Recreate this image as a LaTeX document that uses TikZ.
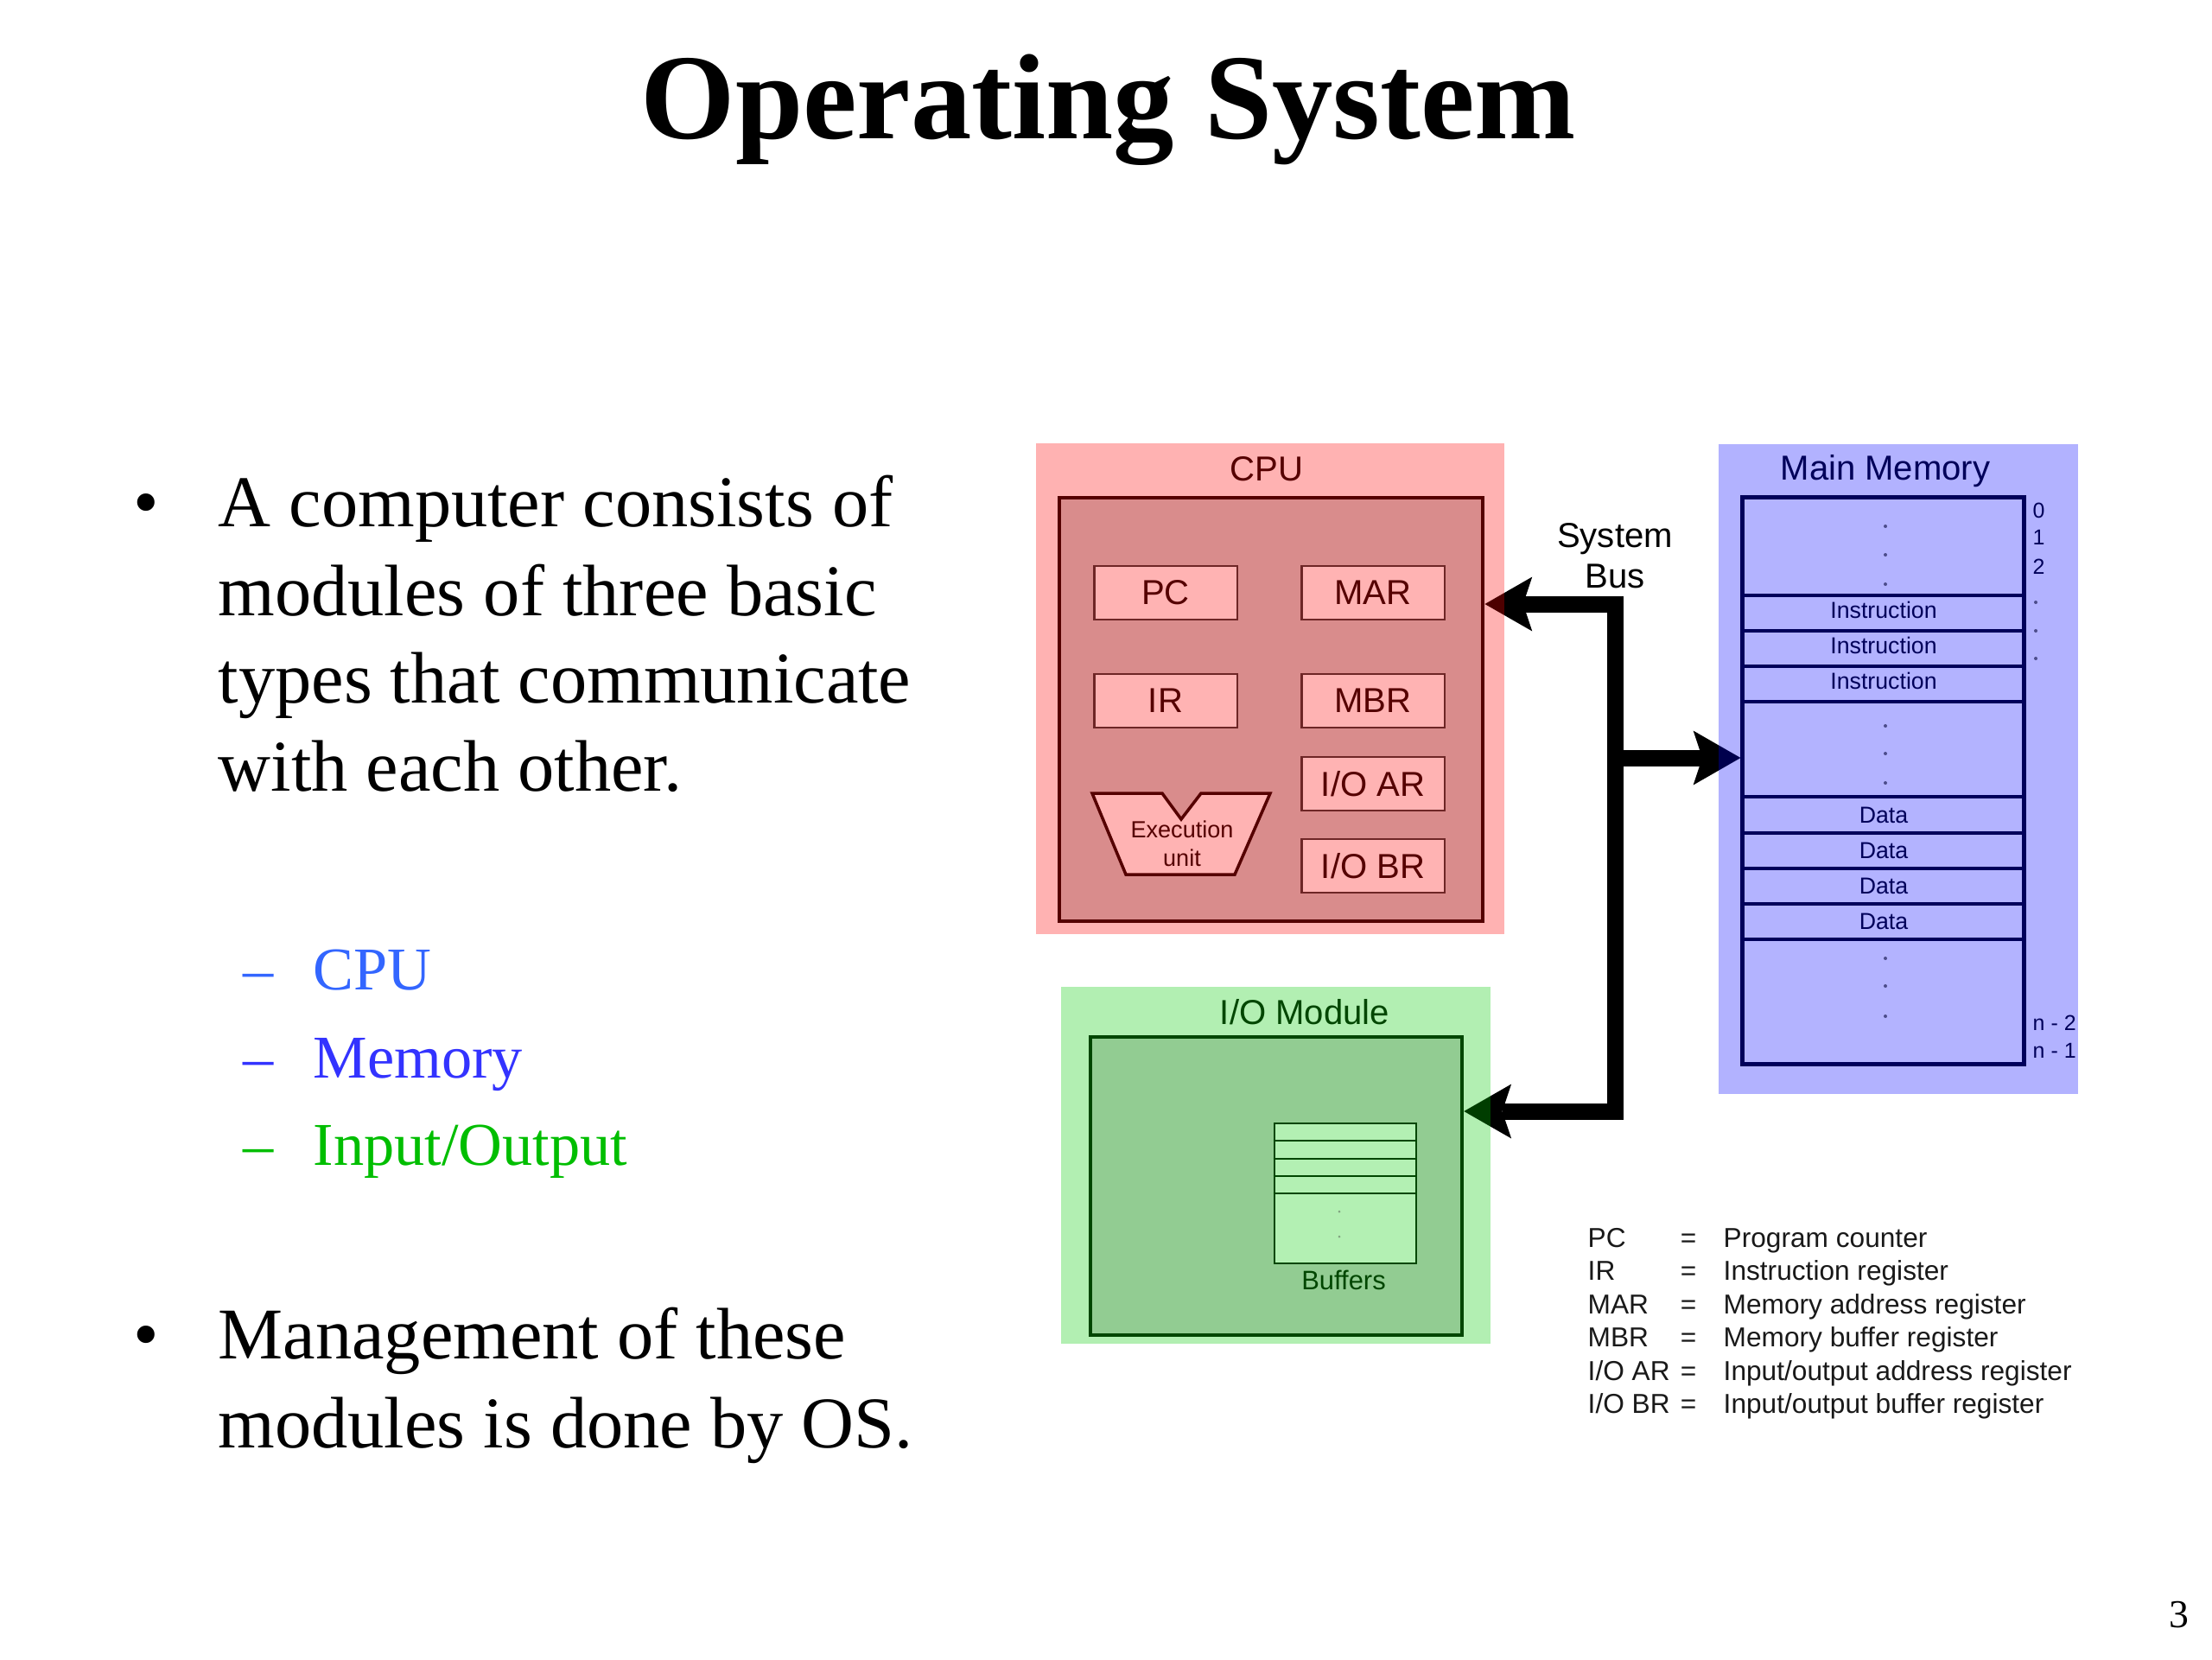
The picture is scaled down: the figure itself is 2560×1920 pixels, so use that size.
\documentclass[tikz,border=0pt]{standalone}
\usepackage{fontspec}
\setmainfont{Liberation Serif}
\newfontfamily\arialf{Liberation Sans}
\usetikzlibrary{arrows.meta}
\definecolor{cpuOut}{RGB}{255,2,2}
\definecolor{cpuIn}{RGB}{217,140,140}
\definecolor{cpuReg}{RGB}{255,179,179}
\definecolor{cpuDark}{RGB}{85,0,0}
\definecolor{memOut}{RGB}{2,2,255}
\definecolor{memIn}{RGB}{179,179,255}
\definecolor{memDark}{RGB}{0,0,90}
\definecolor{ioOut}{RGB}{2,205,2}
\definecolor{ioIn}{RGB}{146,204,146}
\definecolor{ioBuf}{RGB}{179,240,179}
\definecolor{ioDark}{RGB}{0,70,0}
\definecolor{subCPU}{RGB}{51,102,255}
\definecolor{subMem}{RGB}{51,51,255}
\definecolor{subIO}{RGB}{0,190,0}
\pgfdeclarelayer{bgl}
\pgfdeclarelayer{busl}
\pgfdeclarelayer{outl}
\pgfsetlayers{bgl,busl,outl,main}
\tikzset{
  titlestyle/.style={font=\fontsize{40}{48}\selectfont\bfseries, anchor=base, inner sep=0pt},
  body/.style={font=\fontsize{24}{29}\selectfont, anchor=base west, inner sep=0pt},
  sub/.style={font=\fontsize{20}{24}\selectfont, anchor=base west, inner sep=0pt},
  lbl/.style={font=\arialf\fontsize{11.4}{13}\selectfont, inner sep=0pt},
  outerbox/.style={draw=none, fill opacity=0.3, inner sep=0pt},
  reg/.style={lbl, draw=cpuDark!85, line width=0.6pt, fill=cpuReg, minimum width=1.65cm, minimum height=0.62cm, text=cpuDark},
  memtxt/.style={font=\arialf\fontsize{7.6}{9}\selectfont, inner sep=0pt, text=memDark},
  addr/.style={font=\arialf\fontsize{7.1}{8.5}\selectfont, inner sep=0pt, text=memDark, anchor=west},
  leg/.style={font=\arialf\fontsize{9}{11}\selectfont, inner sep=0pt, anchor=base west, text=black!90},
  bustip/.tip={Stealth[length=15.6pt,width=17.9pt,inset=3pt,line width=0pt]},
  bus/.style={line width=5.4pt, black, line join=miter},
}
\begin{document}
\begin{tikzpicture}[x=0.01cm,y=-0.01cm]
\begin{pgfonlayer}{bgl}
\fill[white] (0,0) rectangle (2560,1920);
\end{pgfonlayer}
\useasboundingbox (0,0) rectangle (2560,1920);

% ---- text side ----
\node[titlestyle] (title) at (1283,160) {Operating System};
\node[body] (b1) at (154,609) {•};
\node[body] (l1) at (252,609) {A computer consists of};
\node[body] (l2) at (252,712) {modules of three basic};
\node[body] (l3) at (252,813) {types that communicate};
\node[body] (l4) at (252,915) {with each other.};
\node[sub, text=subCPU] (d1) at (281,1145) {–};
\node[sub, text=subCPU] (s1) at (362,1145) {CPU};
\node[sub, text=subMem] (d2) at (281,1247) {–};
\node[sub, text=subMem] (s2) at (362,1247) {Memory};
\node[sub, text=subIO] (d3) at (281,1348) {–};
\node[sub, text=subIO] (s3) at (362,1348) {Input/Output};
\node[body] (b2) at (154,1572) {•};
\node[body] (m1) at (252,1572) {Management of these};
\node[body] (m2) at (252,1675) {modules is done by OS.};
\node[anchor=base east, font=\fontsize{13}{15}\selectfont, inner sep=0pt] (pg) at (2534,1883) {3};

% ---- outer (translucent) module boxes ----
\begin{pgfonlayer}{outl}
\node[outerbox, fill=cpuOut, minimum width=5.42cm, minimum height=5.68cm] (cpuout) at (1470,797) {};
\node[outerbox, fill=memOut, minimum width=4.15cm, minimum height=7.52cm] (memout) at (2197,890) {};
\node[outerbox, fill=ioOut, minimum width=4.97cm, minimum height=4.13cm] (ioout) at (1476.5,1348.5) {};
\end{pgfonlayer}

% ---- CPU ----
\node[draw=cpuDark, line width=1.3pt, fill=cpuIn, minimum width=4.9cm, minimum height=4.9cm, inner sep=0pt] (cpuin) at (1471,821) {};
\node[lbl, text=cpuDark, anchor=base] (cpulbl) at (1466,556) {CPU};
\node[reg] (pc) at (1349,686) {PC};
\node[reg] (mar) at (1589,686) {MAR};
\node[reg] (ir) at (1349,811) {IR};
\node[reg] (mbr) at (1589,811) {MBR};
\node[reg] (ioar) at (1589,907) {I/O AR};
\node[reg] (iobr) at (1589,1002) {I/O BR};
\draw[cpuDark, line width=1pt, fill=cpuReg, line join=miter]
  (1264,918) -- (1345,918) -- (1367,948) -- (1390,918) -- (1470,918) -- (1429,1012) -- (1303,1012) -- cycle;
\node[font=\arialf\fontsize{7.7}{9.4}\selectfont, text=cpuDark, inner sep=0pt, anchor=base] (exec1) at (1368,969) {Execution};
\node[font=\arialf\fontsize{7.7}{9.4}\selectfont, text=cpuDark, inner sep=0pt, anchor=base] (exec2) at (1368,1002) {unit};

% ---- Main memory ----
\node[draw=memDark, line width=1.4pt, fill=memIn, minimum width=3.25cm, minimum height=6.55cm, inner sep=0pt] (memin) at (2179.5,903.5) {};
\node[lbl, text=memDark, anchor=base] (memlbl) at (2182,555) {Main Memory};
\foreach \y in {689,730,771,812,922,964,1005,1046,1087}
  \draw[memDark, line width=1.1pt] (2017,\y) -- (2342,\y);
\node[memtxt] (ins1) at (2180,706) {Instruction};
\node[memtxt] (ins2) at (2180,747) {Instruction};
\node[memtxt] (ins3) at (2180,788) {Instruction};
\node[memtxt] (dat1) at (2180,943) {Data};
\node[memtxt] (dat2) at (2180,984.5) {Data};
\node[memtxt] (dat3) at (2180,1025.5) {Data};
\node[memtxt] (dat4) at (2180,1066.5) {Data};
\foreach \y in {609,642,676,840,872,906,1109,1141,1176}
  \fill[memDark!70] (2182,\y) circle (2);
\node[addr] (a0) at (2352,591) {0};
\node[addr] (a1) at (2352,622) {1};
\node[addr] (a2) at (2352,656) {2};
\foreach \y in {697,730,762}
  \fill[memDark!70] (2356,\y) circle (2);
\node[addr] (an2) at (2352,1184) {n - 2};
\node[addr] (an1) at (2352,1216) {n - 1};

% ---- I/O module ----
\node[draw=ioDark, line width=1.2pt, fill=ioIn, minimum width=4.3cm, minimum height=3.45cm, inner sep=0pt] (ioin) at (1477,1372.5) {};
\node[lbl, text=ioDark, anchor=base] (iolbl) at (1510,1185) {I/O Module};
\node[draw=ioDark, line width=0.7pt, fill=ioBuf, minimum width=1.64cm, minimum height=1.62cm, inner sep=0pt] (buf) at (1557,1381) {};
\foreach \y in {1320,1341,1361,1381}
  \draw[ioDark, line width=0.7pt] (buf.west |- 0,\y) -- (buf.east |- 0,\y);
\fill[ioDark!50] (1550,1402) circle (1.5);
\fill[ioDark!50] (1550,1431) circle (1.5);
\node[font=\arialf\fontsize{8.8}{10}\selectfont, text=ioDark, inner sep=0pt, anchor=base] (buflbl) at (1555,1492) {Buffers};

% ---- System bus ----
\node[lbl, anchor=base] (sys1) at (1869,633) {System};
\node[lbl, anchor=base] (sys2) at (1869,680) {Bus};
\coordinate (busT) at (1869,699);
\coordinate (busM) at (1869,877);
\coordinate (busB) at (1869,1286);
\begin{pgfonlayer}{busl}
\draw[bus, bustip-bustip] (cpuin.east |- busT) -- (busT) -- (busB) -- (ioin.east |- busB);
\draw[bus, -bustip] (busM) -- (memin.west |- busM);
\end{pgfonlayer}

% ---- legend ----
\node[leg] (k1) at (1837,1443) {PC};
\node[leg] (k2) at (1837,1481.5) {IR};
\node[leg] (k3) at (1837,1520) {MAR};
\node[leg] (k4) at (1837,1558) {MBR};
\node[leg] (k5) at (1837,1597) {I/O AR};
\node[leg] (k6) at (1837,1635) {I/O BR};
\foreach \y/\n in {1443/1,1481.5/2,1520/3,1558/4,1597/5,1635/6}
  \node[leg, anchor=base] (e\n) at (1954,\y) {=};
\node[leg] (v1) at (1994,1443) {Program counter};
\node[leg] (v2) at (1994,1481.5) {Instruction register};
\node[leg] (v3) at (1994,1520) {Memory address register};
\node[leg] (v4) at (1994,1558) {Memory buffer register};
\node[leg] (v5) at (1994,1597) {Input/output address register};
\node[leg] (v6) at (1994,1635) {Input/output buffer register};
\end{tikzpicture}
\end{document}
